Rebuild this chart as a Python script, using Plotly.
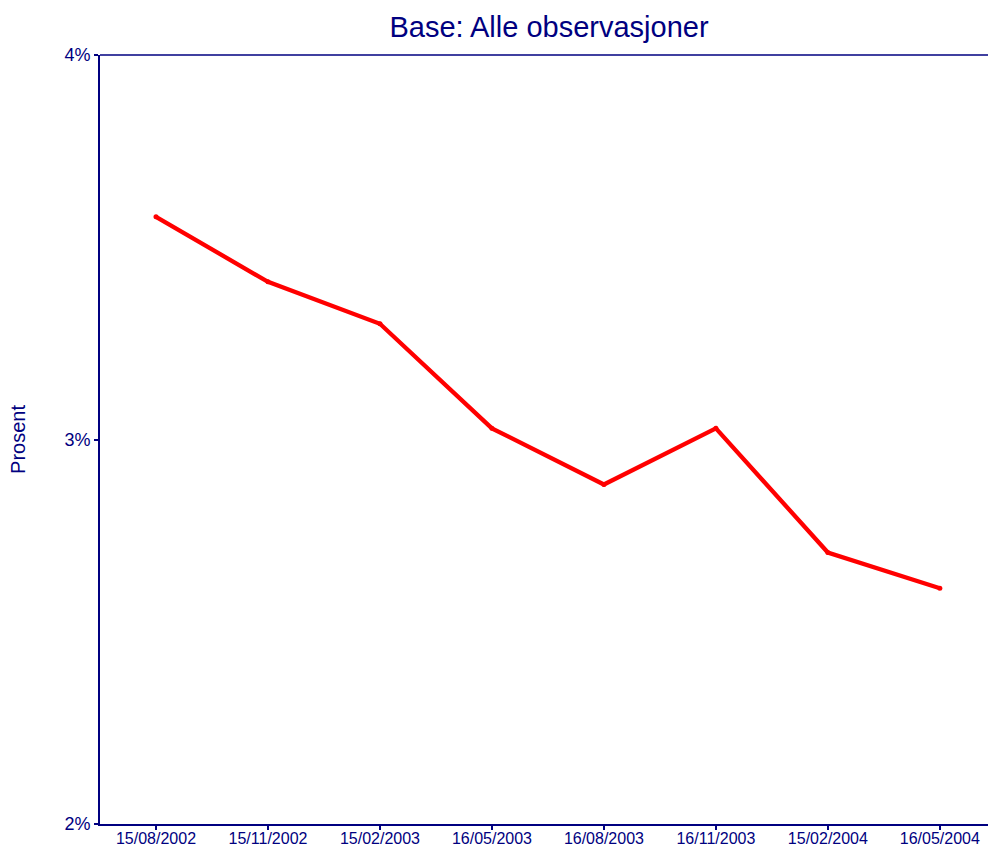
import plotly.graph_objects as go

# Observation dates and measured share (percent)
dates = ["15/08/2002", "15/11/2002", "15/02/2003", "16/05/2003",
         "16/08/2003", "16/11/2003", "15/02/2004", "16/05/2004"]
values = [3.579, 3.410, 3.301, 3.029, 2.883, 3.029, 2.706, 2.613]

y_ticks = [2, 3, 4]
y_tick_labels = ["2%", "3%", "4%"]

NAVY = "#000080"
FONT = "Liberation Sans, Arial, sans-serif"

fig = go.Figure()
fig.add_trace(go.Scatter(
    x=list(range(len(dates))),
    y=values,
    mode="lines+markers",
    line=dict(color="#FF0000", width=4.3),
    marker=dict(color="#FF0000", size=5),
    showlegend=False,
))

fig.update_layout(
    width=988, height=847,
    margin=dict(l=100, r=0, t=55, b=23),
    paper_bgcolor="white", plot_bgcolor="white",
    font=dict(family=FONT, color=NAVY),
    title=dict(text="Base: Alle observasjoner", x=549 / 988, xanchor="center",
               xref="container", y=1 - 27 / 847, yanchor="middle",
               font=dict(size=29, color=NAVY, family=FONT)),
)

fig.update_xaxes(
    range=[-0.5, 7.43],
    tickvals=list(range(len(dates))), ticktext=dates,
    tickfont=dict(size=16, color=NAVY, family=FONT),
    ticks="outside", ticklen=4, tickwidth=1.5, tickcolor=NAVY,
    ticklabelstandoff=-5,
    showline=True, linecolor=NAVY, linewidth=2,
    showgrid=False, zeroline=False, automargin=False,
)
fig.update_yaxes(
    range=[2, 4],
    tickvals=y_ticks, ticktext=y_tick_labels,
    tickfont=dict(size=18, color=NAVY, family=FONT),
    ticks="outside", ticklen=4, tickwidth=1.5, tickcolor=NAVY,
    showline=True, linecolor=NAVY, linewidth=2,
    showgrid=False, zeroline=False, automargin=False,
    title=dict(text="Prosent", font=dict(size=20, color=NAVY, family=FONT),
               standoff=33),
)

# Thin frame line along the top of the plot area
fig.add_shape(type="line", xref="paper", yref="paper",
              x0=0, x1=1, y0=1, y1=1,
              line=dict(color=NAVY, width=1.5))

fig.write_html("out.html")
